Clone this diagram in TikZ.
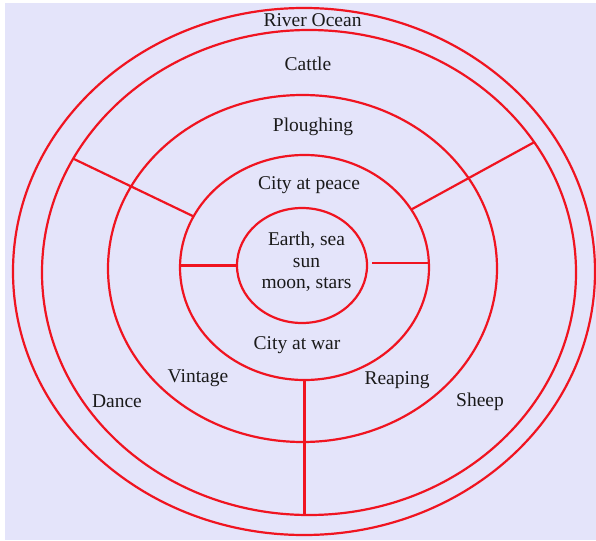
\documentclass[tikz,border=0pt]{standalone}
\usepackage{fontspec}
\setmainfont{Liberation Serif}
\usetikzlibrary{calc}
\definecolor{ringred}{HTML}{F01420}
\definecolor{lavbg}{HTML}{E4E4FA}
\definecolor{ink}{HTML}{1A1A1A}

\begin{document}
\begin{tikzpicture}[x=1pt,y=-1pt,
  ring/.style={draw=ringred,line width=2.2pt},
  lbl/.style={font=\fontsize{19.5}{21.7}\selectfont,text=ink,inner sep=0pt,align=center}]
\useasboundingbox (0,0) rectangle (596,540);
\fill[lavbg] (5,3) rectangle (596,540);
\coordinate (cO) at (304,271.5);
\coordinate (cK) at (309,272.5);
\coordinate (cP) at (302.5,268.5);
\coordinate (cW) at (304.5,267.5);
\coordinate (cE) at (302,265.5);
\draw[ring] (cO) ellipse [x radius=291pt,y radius=263.5pt];
\draw[ring] (cK) ellipse [x radius=267pt,y radius=242.5pt];
\draw[ring] (cP) ellipse [x radius=194.5pt,y radius=173.5pt];
\draw[ring] (cW) ellipse [x radius=124.5pt,y radius=112.5pt];
\draw[ring] (cE) ellipse [x radius=65pt,y radius=57.5pt];
\coordinate (wl) at ($(cW)+(153:124.5pt and 112.5pt)$);
\coordinate (kl) at ($(cK)+(152:267pt and 242.5pt)$);
\coordinate (wr) at ($(cW)+(31:124.5pt and 112.5pt)$);
\coordinate (kr) at ($(cK)+(32.5:267pt and 242.5pt)$);
\coordinate (wb) at ($(cW)+(270:124.5pt and 112.5pt)$);
\coordinate (kb) at ($(cK)+(270:267pt and 242.5pt)$);
\coordinate (ew) at (237,265.5);
\coordinate (ww) at (180,265.5);
\coordinate (ee) at (372,263);
\coordinate (we) at (429,263);
\draw[ring] (wl) -- (kl);
\draw[ring] (wr) -- (kr);
\draw[ring] (wb) -- (wb |- kb);
\draw[ring] (ew) -- (ww);
\draw[ring] (ee) -- (we);
\node[lbl] (ocean) at (312.5,20) {River Ocean};
\node[lbl] (cattle) at (308,64) {Cattle};
\node[lbl] (plough) at (313,127) {Ploughing};
\node[lbl] (peace) at (309,185) {City at peace};
\node[lbl] (earth) at (306.5,262) {Earth, sea\\sun\\moon, stars};
\node[lbl] (war) at (297,345) {City at war};
\node[lbl] (vintage) at (198,378) {Vintage};
\node[lbl] (reaping) at (397,380) {Reaping};
\node[lbl] (dance) at (117,401) {Dance};
\node[lbl] (sheep) at (480,402) {Sheep};
\end{tikzpicture}
\end{document}
